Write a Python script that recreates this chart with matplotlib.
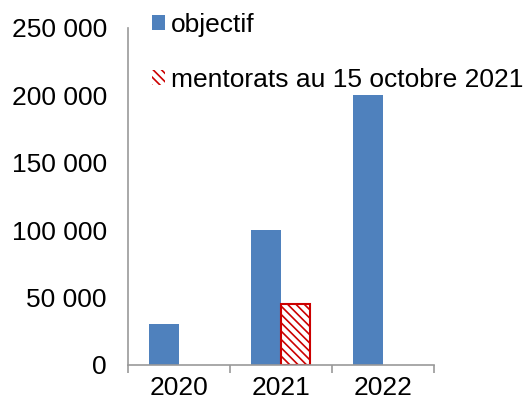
import numpy as np
import matplotlib.pyplot as plt

years = ['2020', '2021', '2022']
objectif = [30000, 100000, 200000]
mentorats = [np.nan, 45000, np.nan]

plt.rcParams['font.family'] = ['Liberation Sans', 'DejaVu Sans']
plt.rcParams['hatch.color'] = '#cc0000'
plt.rcParams['hatch.linewidth'] = 1.2

fig = plt.figure(figsize=(5.28, 4.05), dpi=100)
ax = fig.add_axes([0.242, 0.099, 0.580, 0.832])

x = np.arange(len(years))
w = 0.29
ax.bar(x - w / 2, objectif, w, color='#4f81bd', label='objectif')
ax.bar(x + w / 2, mentorats, w, color='white', edgecolor='#cc0000',
       hatch='\\\\\\\\', linewidth=1.5, label='mentorats au 15 octobre 2021')

ax.set_xlim(-0.5, 2.5)
ax.set_ylim(0, 250000)
ax.set_yticks(np.arange(0, 250001, 50000))
ax.set_yticklabels([f'{v:,}'.replace(',', ' ') for v in range(0, 250001, 50000)])
ax.set_xticks(x)
ax.set_xticklabels(years)
ax.set_xticks([-0.5, 0.5, 1.5, 2.5], minor=True)
ax.tick_params(axis='x', which='major', length=0, labelsize=19, pad=8)
ax.tick_params(axis='x', which='minor', length=6, color='#999999', width=1.2)
ax.tick_params(axis='y', length=0, labelsize=19, pad=15)

for s in ['top', 'right']:
    ax.spines[s].set_visible(False)
for s in ['left', 'bottom']:
    ax.spines[s].set_color('#999999')
    ax.spines[s].set_linewidth(1.2)

leg = ax.legend(loc='upper left', bbox_to_anchor=(0.045, 1.075), frameon=False,
                fontsize=19, handlelength=0.5, handleheight=0.5, handletextpad=0.2,
                labelspacing=1.15, borderaxespad=0)
leg.legend_handles[1].set_linewidth(0)

fig.savefig('out.png', dpi=100)
